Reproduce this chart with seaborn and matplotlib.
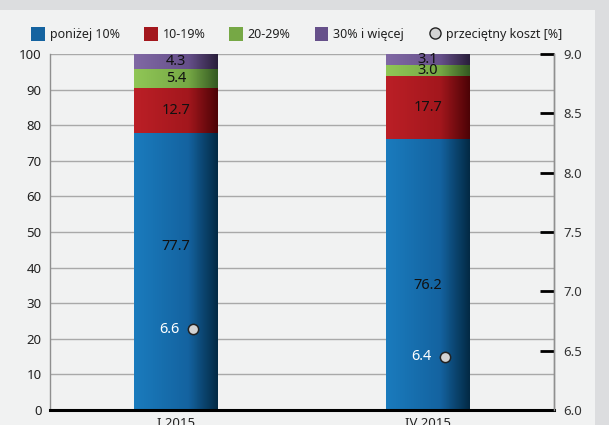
import numpy as np
import pandas as pd
import seaborn as sns
import matplotlib.pyplot as plt
from matplotlib.colors import LinearSegmentedColormap
from matplotlib.patches import Rectangle, Patch
from matplotlib.lines import Line2D

# data
periods = ['I 2015', 'IV 2015']
below_10 = [77.7, 76.2]
share_10_19 = [12.7, 17.7]
share_20_29 = [5.4, 3.0]
share_30_plus = [4.3, 3.1]
avg_cost = [6.68, 6.45]
avg_cost_labels = ['6.6', '6.4']
blue_label_y = [46, 35]

series_names = ['poniżej 10%', '10-19%', '20-29%', '30% i więcej']
series_vals = [below_10, share_10_19, share_20_29, share_30_plus]
# light -> mid -> dark (left to right gradient)
grads = [('#1a7bbd', '#1463a0', '#032a45'),
         ('#bb1f26', '#a3171d', '#4d0306'),
         ('#90c656', '#76a845', '#345a22'),
         ('#8068a4', '#66508a', '#2a1f3c')]

sns.set_style('white')
plt.rcParams['font.family'] = ['Noto Sans', 'DejaVu Sans']

fig = plt.figure(figsize=(6.09, 4.25), dpi=100, facecolor='#dcdddf')
fig.patches.append(Rectangle((0, 0), 595 / 609, 415 / 425, transform=fig.transFigure,
                             facecolor='#f1f2f2', edgecolor='none', zorder=-10))
ax = fig.add_axes([50 / 609, 15 / 425, 504 / 609, 356 / 425])
ax.set_facecolor('none')

df = pd.DataFrame({'period': periods})
cum = np.cumsum(np.array(series_vals), axis=0)
# draw the cumulative totals from the top layer down
for k in range(len(series_vals) - 1, -1, -1):
    df['v'] = cum[k]
    sns.barplot(data=df, x='period', y='v', order=periods, color=grads[k][1],
                width=0.33, ax=ax, zorder=2)

gradient = np.linspace(0, 1, 64).reshape(1, -1)
n = len(periods)
for i, patch in enumerate(ax.patches):
    k = len(series_vals) - 1 - i // n
    cmap = LinearSegmentedColormap.from_list('g%d' % k, [(0, grads[k][0]), (0.65, grads[k][1]), (1, grads[k][2])])
    x0, y0 = patch.get_x(), patch.get_y()
    w, h = patch.get_width(), patch.get_height()
    im = ax.imshow(gradient, extent=[x0, x0 + w, y0, y0 + h], aspect='auto', cmap=cmap,
                   zorder=3 + i, interpolation='bilinear')
    im.set_clip_path(patch)
    patch.set_facecolor('none')
    patch.set_edgecolor('none')

ax.set_xlim(-0.5, 1.5)
ax.set_ylim(0, 100)
ax.set_aspect('auto')

# segment labels
for j in range(n):
    bottom = 0
    for k, vals in enumerate(series_vals):
        top = min(bottom + vals[j], 100)
        y = blue_label_y[j] if k == 0 else (bottom + top) / 2
        ax.text(j, y, '%.1f' % vals[j], ha='center', va='center', fontsize=10.5,
                color='#111111', zorder=20)
        bottom += vals[j]

ax.set_yticks(range(0, 101, 10))
ax.yaxis.grid(True, color='#a9a9a9', linewidth=1)
ax.set_axisbelow(True)
ax.tick_params(axis='y', length=0, pad=6, labelsize=9.5, labelcolor='#222222')
ax.tick_params(axis='x', which='major', length=0, pad=5, labelsize=9.5, labelcolor='#222222')
ax.set_xticks([0.5], minor=True)
ax.tick_params(axis='x', which='minor', direction='in', length=7, color='#888888', width=0.8)
ax.set_xlabel('')
ax.set_ylabel('')
ax.spines['top'].set_visible(False)
ax.spines['left'].set_color('#8f8f8f')
ax.spines['left'].set_linewidth(1)
ax.spines['right'].set_color('#8f8f8f')
ax.spines['right'].set_linewidth(1)
ax.spines['bottom'].set_color('black')
ax.spines['bottom'].set_linewidth(2.2)
ax.spines['bottom'].set_zorder(30)

# average cost on the right axis
ax2 = ax.twinx()
sns.scatterplot(x=np.arange(n) + 0.068, y=avg_cost, ax=ax2, s=55, color='#d3d3d3',
                edgecolor='#222222', linewidth=1.1, zorder=25, legend=False)
for j in range(n):
    ax.text(j - 0.025, 0, avg_cost_labels[j], ha='center', va='center', fontsize=10.5,
            color='white', zorder=20, transform=ax.transData)
ax2.set_ylim(6, 9)
ax2.set_yticks(np.arange(6, 9.01, 0.5))
ax2.set_yticklabels(['%.1f' % t for t in np.arange(6, 9.01, 0.5)])
ax2.tick_params(axis='y', direction='in', length=10, width=2, color='black', pad=7,
                labelsize=9.5, labelcolor='#333333')
for sp in ['top', 'left', 'bottom']:
    ax2.spines[sp].set_visible(False)
ax2.spines['right'].set_color('#8f8f8f')
ax2.spines['right'].set_linewidth(1)
ax2.set_ylabel('')

# move cost labels to marker heights
for t, c in zip(ax.texts[-n:], avg_cost):
    t.set_transform(ax2.transData)
    t.set_y(c)
    t.set_zorder(26)

handles = [Patch(facecolor=g[1], edgecolor='none') for g in grads]
handles.append(Line2D([], [], marker='o', linestyle='none', markersize=8,
                      markerfacecolor='#d3d3d3', markeredgecolor='#222222'))
fig.legend(handles, series_names + ['przeciętny koszt [%]'], loc='center left',
           bbox_to_anchor=(20 / 609, 1 - 34 / 425), ncol=5, frameon=False, fontsize=9,
           handlelength=1.1, handleheight=1.3, handletextpad=0.4, columnspacing=1.9,
           labelcolor='#222222')

fig.savefig('out.png', dpi=100, facecolor=fig.get_facecolor())
